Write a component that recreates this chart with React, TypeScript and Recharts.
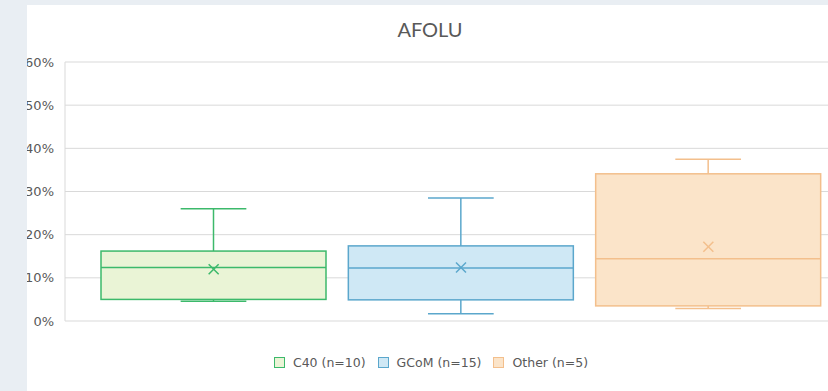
import React from 'react';
import { ComposedChart, Bar, Scatter, XAxis, YAxis, CartesianGrid, Cell } from 'recharts';

const groups = ['C40 (n=10)', 'GCoM (n=15)', 'Other (n=5)'];
const minVals = [4.6, 1.7, 2.9];
const q1Vals = [5.0, 4.9, 3.5];
const medianVals = [12.4, 12.3, 14.4];
const q3Vals = [16.2, 17.4, 34.1];
const maxVals = [26.0, 28.5, 37.5];
const meanVals = [12.0, 12.4, 17.2];
const yTicks = [0, 10, 20, 30, 40, 50, 60];

const strokeColors = ['#3cb96b', '#5ba7cc', '#f3bf8c'];
const fillColors = ['#eaf4d6', '#cfe8f5', '#fbe4c9'];

const data = groups.map((g, i) => ({
  name: g,
  range: [minVals[i], maxVals[i]],
  min: minVals[i],
  q1: q1Vals[i],
  median: medianVals[i],
  q3: q3Vals[i],
  max: maxVals[i],
  mean: meanVals[i],
  idx: i,
}));

const FONT = 'Lato, "Open Sans", sans-serif';
const SMALL_FONT = '"DejaVu Sans", sans-serif';
const TEXT = '#595959';

const BoxShape = (props: any) => {
  const { x, y, width, height, payload } = props;
  const p = payload;
  const span = p.max - p.min;
  const pos = (v: number) => y + ((p.max - v) / span) * height;
  const cx = x + width / 2;
  const capHalf = width * 0.146;
  const s = strokeColors[p.idx];
  const f = fillColors[p.idx];
  const yMax = pos(p.max);
  const yQ3 = pos(p.q3);
  const yMed = pos(p.median);
  const yQ1 = pos(p.q1);
  const yMin = pos(p.min);
  return (
    <g>
      <line x1={cx} x2={cx} y1={yMax} y2={yQ3} stroke={s} strokeWidth={1.5} />
      <line x1={cx - capHalf} x2={cx + capHalf} y1={yMax} y2={yMax} stroke={s} strokeWidth={1.5} />
      <line x1={cx} x2={cx} y1={yQ1} y2={yMin} stroke={s} strokeWidth={1.5} />
      <line x1={cx - capHalf} x2={cx + capHalf} y1={yMin} y2={yMin} stroke={s} strokeWidth={1.5} />
      <rect x={x} y={yQ3} width={width} height={yQ1 - yQ3} fill={f} stroke={s} strokeWidth={1.5} />
      <line x1={x} x2={x + width} y1={yMed} y2={yMed} stroke={s} strokeWidth={1.5} />
    </g>
  );
};

const MeanShape = (props: any) => {
  const { cx, cy, payload } = props;
  const s = strokeColors[payload.idx];
  const r = 5;
  return (
    <g>
      <line x1={cx - r} y1={cy - r} x2={cx + r} y2={cy + r} stroke={s} strokeWidth={1.5} />
      <line x1={cx - r} y1={cy + r} x2={cx + r} y2={cy - r} stroke={s} strokeWidth={1.5} />
    </g>
  );
};

export default function App() {
  return (
    <div style={{ position: 'absolute', left: 0, top: 0, width: 828, height: 391, background: '#e9eef3', overflow: 'hidden' }}>
      <div style={{ position: 'absolute', left: 27, top: 5, width: 801, height: 386, background: '#ffffff', overflow: 'hidden' }}>
        <div style={{ position: 'absolute', left: -27, top: -5, width: 870, height: 391 }}>
          <div style={{ position: 'absolute', left: 0, top: 17, width: 860, textAlign: 'center', fontFamily: FONT, fontSize: 20, color: TEXT }}>
            AFOLU
          </div>
          <ComposedChart width={870} height={391} data={data} margin={{ top: 62, right: 13, bottom: 70, left: 0 }}>
            <CartesianGrid vertical={false} stroke="#d9d9d9" />
            <XAxis dataKey="name" hide padding={{ left: 25, right: 25 }} />
            <YAxis
              width={65}
              domain={[0, 60]}
              ticks={yTicks}
              tickFormatter={(v: number) => `${v}%`}
              tickLine={false}
              tickSize={6}
              tickMargin={5}
              axisLine={{ stroke: '#d9d9d9' }}
              tick={{ fill: TEXT, fontSize: 13, fontFamily: SMALL_FONT }}
              interval={0}
            />
            <Bar dataKey="range" barSize={225} shape={<BoxShape />} isAnimationActive={false}>
              {data.map((d, i) => (
                <Cell key={i} fill={fillColors[i]} />
              ))}
            </Bar>
            <Scatter dataKey="mean" shape={<MeanShape />} isAnimationActive={false} />
          </ComposedChart>
          <div style={{ position: 'absolute', left: 0, top: 355, width: 862, display: 'flex', justifyContent: 'center', fontFamily: SMALL_FONT, fontSize: 12.5, color: TEXT }}>
            {groups.map((g, i) => (
              <div key={g} style={{ display: 'flex', alignItems: 'center', marginRight: i < groups.length - 1 ? 12 : 0 }}>
                <span style={{ display: 'inline-block', width: 9, height: 9, border: `1px solid ${strokeColors[i]}`, background: fillColors[i], marginRight: 8 }} />
                <span>{g}</span>
              </div>
            ))}
          </div>
        </div>
      </div>
    </div>
  );
}
